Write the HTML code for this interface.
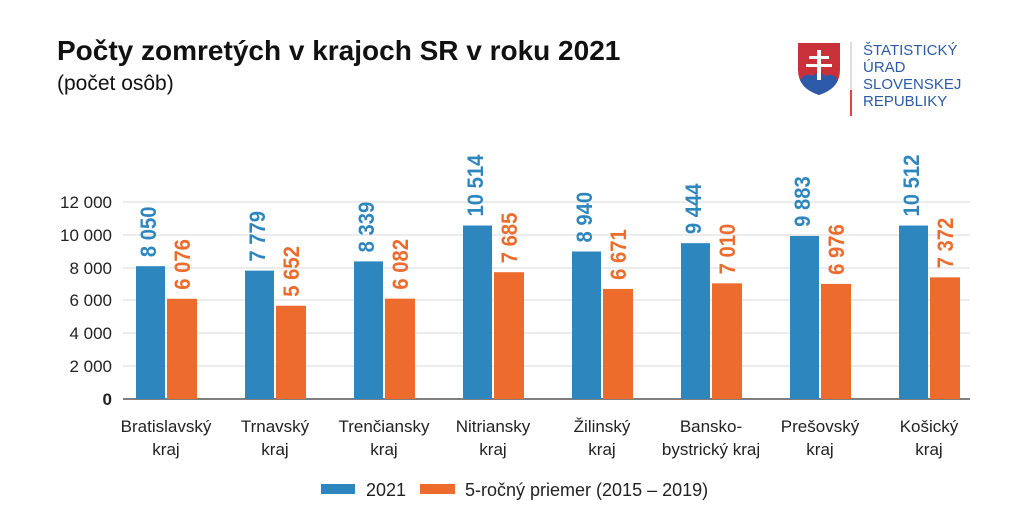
<!DOCTYPE html>
<html><head><meta charset="utf-8"><style>
body{margin:0;background:#fff;}
svg{display:block;font-family:"Liberation Sans",Arial,sans-serif;}
</style></head><body>
<svg width="1024" height="532" viewBox="0 0 1024 532">
<text x="57" y="60" font-size="28" font-weight="bold" fill="#111">Počty zomretých v krajoch SR v roku 2021</text>
<text x="57" y="90" font-size="21" fill="#111">(počet osôb)</text>
<!-- logo -->
<path d="M798 43 H840 V70 Q840 88 819 95 Q798 88 798 70 Z" fill="#c8313a"/>
<path d="M800 80 Q806 72 812 76 Q819 70 826 76 Q832 72 838 80 Q834 90 819 95 Q804 90 800 80Z" fill="#2d5aa8"/>
<rect x="817" y="50" width="4" height="30" fill="#fff"/>
<rect x="809" y="56" width="20" height="3" fill="#fff"/>
<rect x="806" y="64" width="26" height="3" fill="#fff"/>
<rect x="850" y="42" width="2" height="48" fill="#ddd"/>
<rect x="850" y="90" width="2" height="26" fill="#d44"/>
<g font-size="15" fill="#2d5aa8">
<text x="863" y="55">ŠTATISTICKÝ</text><text x="863" y="72">ÚRAD</text>
<text x="863" y="89">SLOVENSKEJ</text><text x="863" y="106">REPUBLIKY</text></g>
<!-- grid -->
<g stroke="#e6e6e6" stroke-width="1.5">
<line x1="123" y1="202" x2="970" y2="202"/><line x1="123" y1="235" x2="970" y2="235"/>
<line x1="123" y1="268" x2="970" y2="268"/><line x1="123" y1="300" x2="970" y2="300"/>
<line x1="123" y1="333" x2="970" y2="333"/><line x1="123" y1="366" x2="970" y2="366"/></g>
<line x1="123" y1="399" x2="970" y2="399" stroke="#555" stroke-width="1.5"/>
<g font-size="17" fill="#222" text-anchor="end">
<text x="112" y="208">12 000</text><text x="112" y="241">10 000</text><text x="112" y="274">8 000</text>
<text x="112" y="306">6 000</text><text x="112" y="339">4 000</text><text x="112" y="372">2 000</text>
<text x="112" y="405" font-weight="bold">0</text></g>
<g id="bars"></g>
<g font-size="17" fill="#222" text-anchor="middle" id="cats"></g>
<rect x="321" y="484" width="34" height="10" fill="#2e86bf"/>
<text x="366" y="496" font-size="18" fill="#222">2021</text>
<rect x="420" y="484" width="35" height="10" fill="#ec6b2d"/>
<text x="465" y="496" font-size="18" fill="#222">5-ročný priemer (2015 – 2019)</text>
</svg>
<script>
const d=[[8050,6076,"8 050","6 076","Bratislavský","kraj"],[7779,5652,"7 779","5 652","Trnavský","kraj"],[8339,6082,"8 339","6 082","Trenčiansky","kraj"],[10514,7685,"10 514","7 685","Nitriansky","kraj"],[8940,6671,"8 940","6 671","Žilinský","kraj"],[9444,7010,"9 444","7 010","Bansko-","bystrický kraj"],[9883,6976,"9 883","6 976","Prešovský","kraj"],[10512,7372,"10 512","7 372","Košický","kraj"]];
let b="",c="";const k=198/12000;
d.forEach((r,i)=>{const cx=166+i*109;
const h1=r[0]*k,h2=r[1]*k;
b+=`<rect x="${cx-30}" y="${399-h1}" width="29" height="${h1}" fill="#2e86bf"/><rect x="${cx+1}" y="${399-h2}" width="30" height="${h2}" fill="#ec6b2d"/>`;
b+=`<text transform="translate(${cx-10},${399-h1-9}) rotate(-90) scale(0.92,1)" font-size="22" font-weight="bold" fill="#2e86bf">${r[2]}</text>`;
b+=`<text transform="translate(${cx+24},${399-h2-9}) rotate(-90) scale(0.92,1)" font-size="22" font-weight="bold" fill="#ec6b2d">${r[3]}</text>`;
c+=`<text x="${cx}" y="432">${r[4]}</text><text x="${cx}" y="455">${r[5]}</text>`;});
document.getElementById("bars").innerHTML=b;document.getElementById("cats").innerHTML=c;
</script>
</body></html>
